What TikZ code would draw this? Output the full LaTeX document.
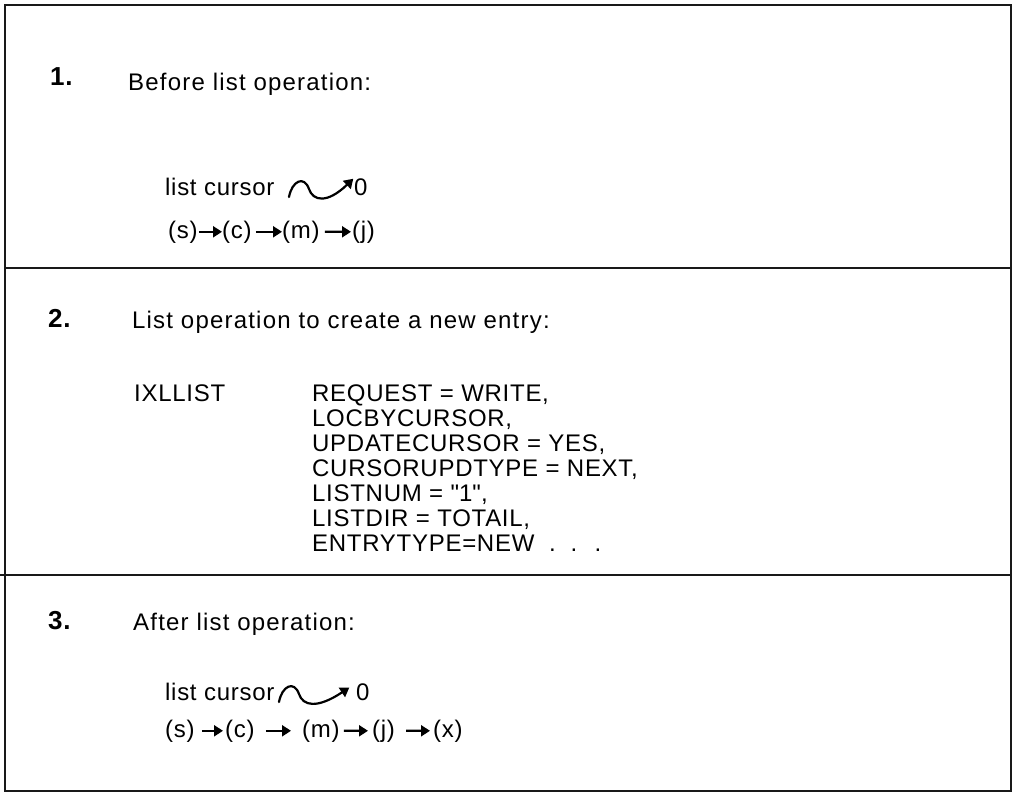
\documentclass[tikz,border=0pt]{standalone}
\usepackage{fontspec}
\setmainfont{Liberation Sans}[LetterSpace=3]
\usetikzlibrary{arrows.meta}
\begin{document}
\begin{tikzpicture}[x=1pt,y=-1pt,
  txt/.style={inner sep=0pt, anchor=base west, font=\fontsize{24}{25}\selectfont},
  head/.style={inner sep=0pt, anchor=base west, font=\fontsize{24}{25}\selectfont\addfontfeature{LetterSpace=5}},
  num/.style={inner sep=0pt, anchor=base west, font=\fontsize{26}{26}\selectfont\bfseries},
  rule/.style={line width=2pt, draw=black!90},
  lnk/.style={line width=2.2pt, -{Triangle[length=9pt,width=11pt]}},
  curvy/.style={line width=2.2pt, line cap=round, -{Triangle[length=9pt,width=11pt]}}]
\useasboundingbox (0,0) rectangle (1013,795);
% frame and dividers
\draw[rule] (5,5) rectangle (1011,791);
\draw[rule] (5,268) -- (1011,268);
\draw[rule] (0,575) -- (1011,575);
% ---------- section 1
\node[num] (n1) at (50,85) {1.};
\node[head] (h1) at (128,90) {Before list operation:};
\node[txt] (lc1) at (165,195) {list cursor};
\node[txt] (z1) at (354,195) {0};
\coordinate (cs1) at (289,197);
\coordinate (cm1) at (309,189);
\draw[curvy, shorten >=1pt] (cs1) .. controls (292,181) and (304,175) .. (cm1)
  .. controls (313,201) and (327,204) .. (z1.north west);
\node[txt] (s1) at (168,238) {(s)};
\node[txt] (c1) at (222,238) {(c)};
\node[txt] (m1) at (282,238) {(m)};
\node[txt] (j1) at (352,238) {(j)};
\draw[lnk, shorten <=1pt] (s1.east) -- (c1.west);
\draw[lnk, shorten <=4pt] (c1.east) -- (m1.west);
\draw[lnk, shorten <=5pt, shorten >=1pt] (m1.east) -- (j1.west);
% ---------- section 2
\node[num] (n2) at (48,327) {2.};
\node[head] (h2) at (132,328) {List operation to create a new entry:};
\node[txt] (ix) at (134,401) {IXLLIST};
\node[txt] (p1) at (312,401) {REQUEST = WRITE,};
\node[txt] (p2) at (312,426) {LOCBYCURSOR,};
\node[txt] (p3) at (312,451) {UPDATECURSOR = YES,};
\node[txt] (p4) at (312,476) {CURSORUPDTYPE = NEXT,};
\node[txt] (p5) at (312,501) {LISTNUM = \textquotedbl 1\textquotedbl,};
\node[txt] (p6) at (312,526) {LISTDIR = TOTAIL,};
\node[txt] (p7) at (312,551) {ENTRYTYPE=NEW \ . \ . \ .};
% ---------- section 3
\node[num] (n3) at (48,629) {3.};
\node[head] (h3) at (133,630) {After list operation:};
\node[txt] (lc3) at (165,700) {list cursor};
\node[txt] (z3) at (356,700) {0};
\coordinate (cs3) at (279,702);
\coordinate (cm3) at (299,694);
\draw[curvy, shorten >=8pt] (cs3) .. controls (282,686) and (294,680) .. (cm3)
  .. controls (303,706) and (317,709) .. (z3.north west);
\node[txt] (s3) at (165,737) {(s)};
\node[txt] (c3) at (225,737) {(c)};
\node[txt] (m3) at (302,737) {(m)};
\node[txt] (j3) at (372,737) {(j)};
\node[txt] (x3) at (433,737) {(x)};
\draw[lnk, shorten <=7pt, shorten >=2pt] (s3.east) -- (c3.west);
\draw[lnk, shorten <=11pt, shorten >=11pt] (c3.east) -- (m3.west);
\draw[lnk, shorten <=4pt, shorten >=4pt] (m3.east) -- (j3.west);
\draw[lnk, shorten <=11pt, shorten >=3pt] (j3.east) -- (x3.west);
\end{tikzpicture}
\end{document}
